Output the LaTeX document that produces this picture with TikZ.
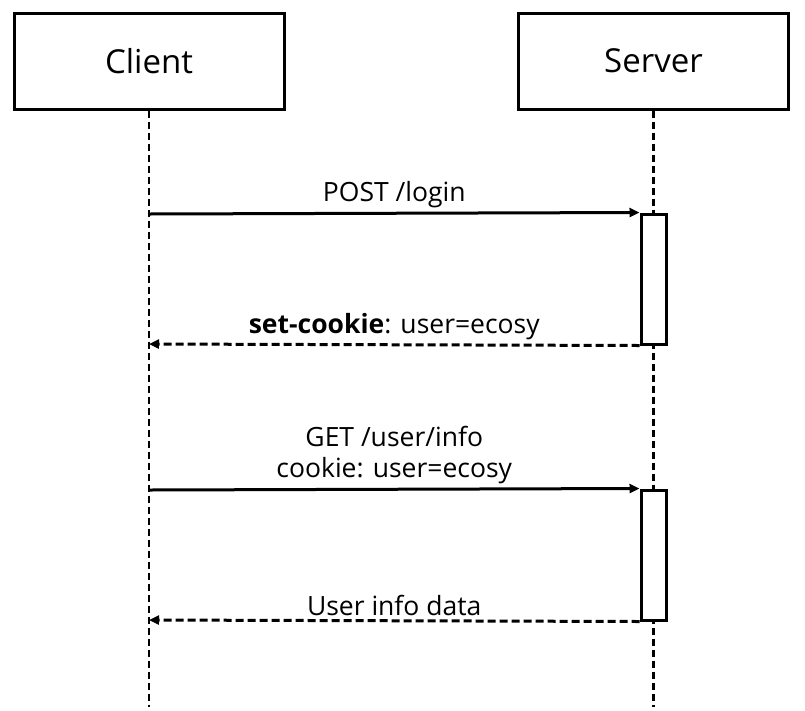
\documentclass[tikz,border=0pt]{standalone}
\usepackage{fontspec}
\setmainfont{Open Sans}
\usetikzlibrary{arrows.meta}

\begin{document}
\begin{tikzpicture}[x=1pt, y=-1pt,
  actor/.style = {draw, line width=3pt, minimum width=270pt, minimum height=96pt, font=\fontsize{33}{40}\selectfont},
  lifeline/.style = {line width=2.8pt, dash pattern=on 7pt off 4pt},
  actbar/.style = {draw, fill=white, line width=3pt, minimum width=25pt, minimum height=130pt, inner sep=0pt},
  msg/.style = {line width=3pt, -{Triangle[length=10pt, width=9pt]}},
  reply/.style = {msg, dash pattern=on 8pt off 4pt},
  lbl/.style = {font=\fontsize{26.5}{31}\selectfont, align=center}]

\useasboundingbox (0, 0) rectangle (805, 710);

% actors
\node[actor] (client) at (149, 61) {Client};
\node[actor] (server) at (653.5, 61) {Server};

\coordinate (clientEnd) at (149, 707);
\coordinate (serverEnd) at (653.5, 707);

\draw[lifeline] (client.south) -- (clientEnd);
\draw[lifeline] (server.south) -- (serverEnd);

% activations
\node[actbar] (act1) at (653.5, 279) {};
\node[actbar] (act2) at (653.5, 555) {};

\coordinate (c1) at (149, 214);
\coordinate (c2) at (149, 344);
\coordinate (c3) at (149, 490);
\coordinate (c4) at (149, 620);

% messages
\draw[msg] (c1) -- (act1.north west) node[lbl, midway, above=1pt] {POST /login};
\draw[reply] (act1.south west) -- (c2) node[lbl, midway, above=0pt] {\textbf{set-cookie}: user=ecosy};

\draw[msg] (c3) -- (act2.north west) node[lbl, midway, above=1pt] {GET /user/info\\cookie: user=ecosy};
\draw[reply] (act2.south west) -- (c4) node[lbl, midway, above=0pt] {User info data};

\end{tikzpicture}
\end{document}
